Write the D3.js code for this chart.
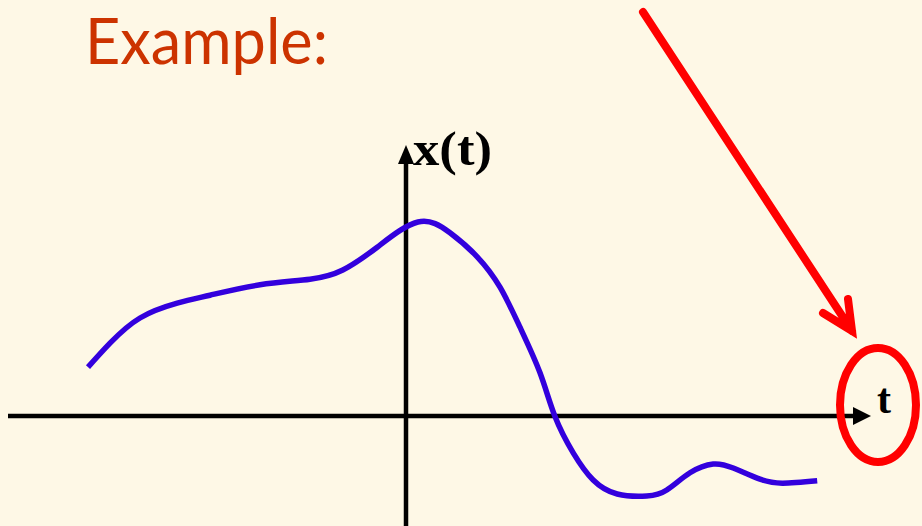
<!DOCTYPE html>
<html>
<head>
<meta charset="utf-8">
<script src="https://cdn.jsdelivr.net/npm/d3@7"></script>
<style>
  html, body { margin: 0; padding: 0; background: #fef8e6; }
  svg { display: block; }
</style>
</head>
<body>
<div id="chart"></div>
<script>
// ---- Data (t, x(t)) in arbitrary units ----
const tValues = [-7.95, -7.4, -6.65, -5.72, -4.9, -3.65, -2.4, -1.58, -0.72, 0.3,
  1.1, 1.78, 2.35, 2.85, 3.35, 3.72, 4.18, 4.68, 5.28, 6.02, 6.52, 7.1, 7.68, 8.18, 8.85, 9.42, 10.28];
const xValues = [1.22, 1.82, 2.45, 2.82, 3.02, 3.28, 3.42, 3.65, 4.22, 4.85,
  4.58, 3.98, 3.22, 2.22, 1.08, 0, -0.92, -1.6, -1.95, -2.0, -1.85, -1.42, -1.2, -1.3, -1.58, -1.68, -1.62];
const titleText = 'Example:';
const yLabel = 'x(t)';
const xLabel = 't';

const width = 922, height = 526;
const svg = d3.select('#chart').append('svg')
  .attr('width', width).attr('height', height);

svg.append('rect').attr('width', width).attr('height', height).attr('fill', '#fef8e6');

// ---- Scales ----
const x = d3.scaleLinear().domain([-10, 11.6]).range([6, 870]);
const y = d3.scaleLinear().domain([-2.75, 6.75]).range([526, 146]);

const x0 = x(0), y0 = y(0);

// ---- Title ----
svg.append('text')
  .attr('x', 85).attr('y', 64)
  .attr('font-family', 'Lato, "Open Sans", sans-serif')
  .attr('font-size', 64)
  .attr('fill', '#cc3300')
  .attr('textLength', 243)
  .attr('lengthAdjust', 'spacingAndGlyphs')
  .text(titleText);

// ---- Axes ----
svg.append('line')
  .attr('x1', 8).attr('x2', 858)
  .attr('y1', y0).attr('y2', y0)
  .attr('stroke', '#000').attr('stroke-width', 4.5);
svg.append('path')
  .attr('d', `M${x0 + 465},${y0} L${x0 + 447},${y0 - 9} L${x0 + 447},${y0 + 9} Z`)
  .attr('fill', '#000');

svg.append('line')
  .attr('x1', x0).attr('x2', x0)
  .attr('y1', height).attr('y2', 158)
  .attr('stroke', '#000').attr('stroke-width', 4.5);
svg.append('path')
  .attr('d', `M${x0},${145} L${x0 - 8},${164} L${x0 + 8},${164} Z`)
  .attr('fill', '#000');

// ---- Axis labels ----
svg.append('text')
  .attr('x', 413).attr('y', 165)
  .attr('font-family', '"Liberation Serif", "DejaVu Serif", serif')
  .attr('font-weight', 'bold')
  .attr('font-size', 48)
  .attr('fill', '#000')
  .attr('textLength', 79)
  .attr('lengthAdjust', 'spacingAndGlyphs')
  .text(yLabel);

svg.append('text')
  .attr('x', 877).attr('y', 413)
  .attr('font-family', '"Liberation Serif", "DejaVu Serif", serif')
  .attr('font-weight', 'bold')
  .attr('font-size', 42)
  .attr('fill', '#000')
  .text(xLabel);

// ---- Signal curve ----
const points = tValues.map((t, i) => [t, xValues[i]]);
const lineGen = d3.line()
  .x(d => x(d[0]))
  .y(d => y(d[1]))
  .curve(d3.curveNatural);

svg.append('path')
  .datum(points)
  .attr('d', lineGen)
  .attr('fill', 'none')
  .attr('stroke', '#3300dd')
  .attr('stroke-width', 5.5);

// ---- Red highlight: ellipse + arrow ----
svg.append('ellipse')
  .attr('cx', 878).attr('cy', 405)
  .attr('rx', 38).attr('ry', 57)
  .attr('fill', 'none')
  .attr('stroke', '#ff0000')
  .attr('stroke-width', 8);

svg.append('path')
  .attr('d', 'M643,12 L852,331 M823,313 L852,331 L848,299')
  .attr('fill', 'none')
  .attr('stroke', '#ff0000')
  .attr('stroke-width', 8)
  .attr('stroke-linecap', 'round')
  .attr('stroke-linejoin', 'miter');
</script>
</body>
</html>
